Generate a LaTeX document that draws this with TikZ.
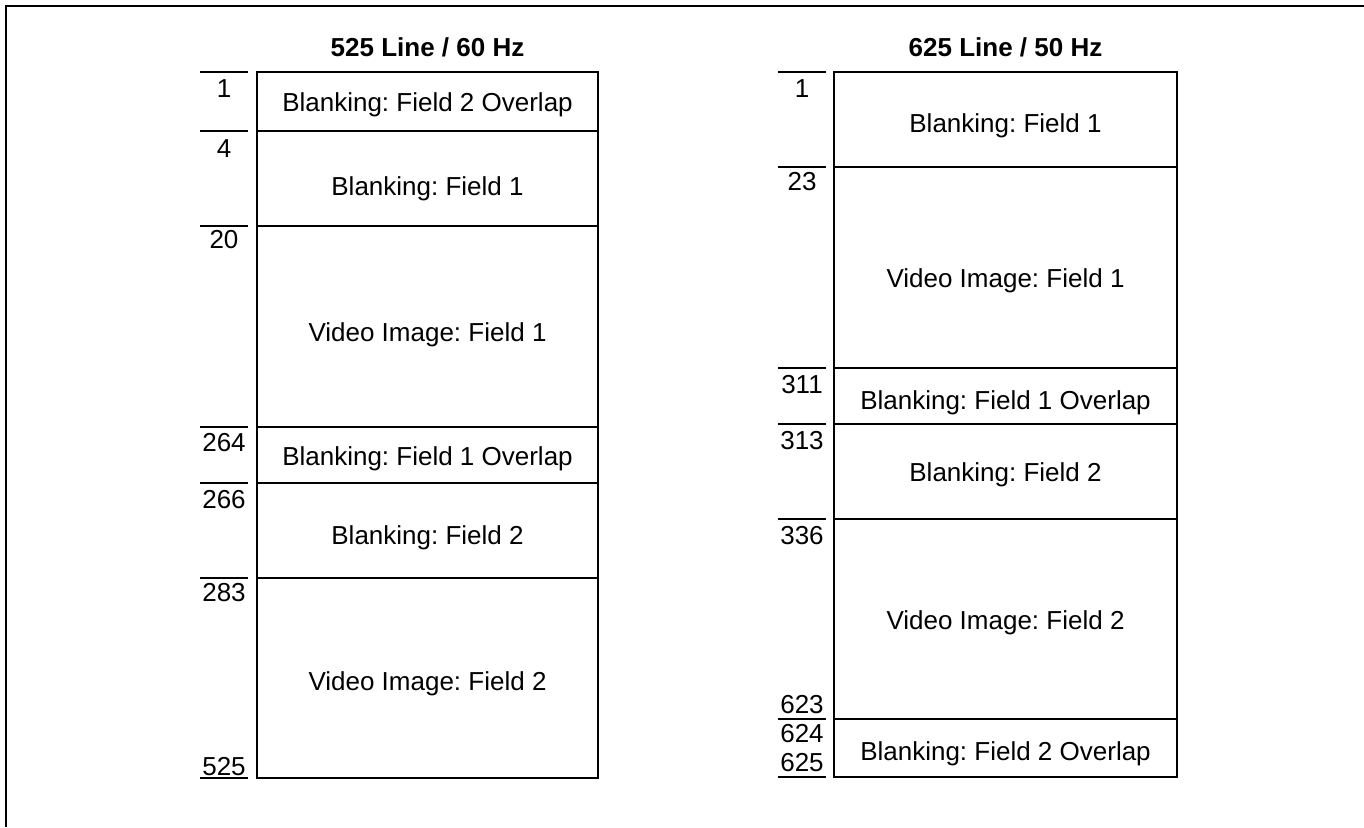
\documentclass[tikz,border=0pt]{standalone}
\usepackage{fontspec}
\setmainfont{Liberation Sans}
\frenchspacing

\begin{document}
\begin{tikzpicture}[x=0.5pt, y=-0.5pt,
		cell/.style={draw, line width=1.1pt},
		celltext/.style={font=\fontsize{13}{15}\selectfont, text height=9pt, text depth=0pt, inner sep=0pt},
		linenum/.style={font=\fontsize{13}{15}\selectfont, text height=9pt, text depth=0pt, inner sep=0pt},
		tick/.style={line width=1.1pt},
		heading/.style={font=\fontsize{13}{15}\selectfont\bfseries, text height=9pt, text depth=0pt, inner sep=0pt}
		]
		
		\useasboundingbox (0,0) rectangle (1364,827);
		
		% Cadre
		\draw[line width=1.1pt] (6,827) |- (1364,6);
		
		% 525 lignes / 60 Hz
		\node[heading] (head525) at (427.5,47) {525 Line / 60 Hz};
		\foreach \top/\bot/\ty/\txt [count=\i] in {72/131/102/{Blanking: Field 2 Overlap}, 131/226/186/{Blanking: Field 1}, 226/427/332/{Video Image: Field 1}, 427/483/456/{Blanking: Field 1 Overlap}, 483/578/535/{Blanking: Field 2}, 578/778/681/{Video Image: Field 2}} {
			\draw[cell] (257,\top) rectangle (598,\bot);
			\node[celltext] (ntsc-\i) at (427.5,\ty) {\txt};
		}
		\foreach \y in {72,131,226,427,483,578,778}
			\draw[tick] (200,\y) -- (248,\y);
		\foreach \ty/\num [count=\i] in {88.5/1, 148/4, 239/20, 442.5/264, 499/266, 592.5/283, 766/525}
			\node[linenum] (ntscnum-\i) at (224,\ty) {\num};
		
		% 625 lignes / 50 Hz
		\node[heading] (head625) at (1005.5,47) {625 Line / 50 Hz};
		\foreach \top/\bot/\ty/\txt [count=\i] in {72/167/123/{Blanking: Field 1}, 167/368/278/{Video Image: Field 1}, 368/424/400/{Blanking: Field 1 Overlap}, 424/519/472/{Blanking: Field 2}, 519/719/620/{Video Image: Field 2}, 719/777/751/{Blanking: Field 2 Overlap}} {
			\draw[cell] (834,\top) rectangle (1177,\bot);
			\node[celltext] (pal-\i) at (1005.5,\ty) {\txt};
		}
		\foreach \y in {72,167,368,424,519,719,777}
			\draw[tick] (778,\y) -- (826,\y);
		\foreach \ty/\num [count=\i] in {88.5/1, 181.5/23, 384/311, 440/313, 535/336, 704/623, 733/624, 762.5/625}
			\node[linenum] (palnum-\i) at (802,\ty) {\num};
		
	\end{tikzpicture}
\end{document}
